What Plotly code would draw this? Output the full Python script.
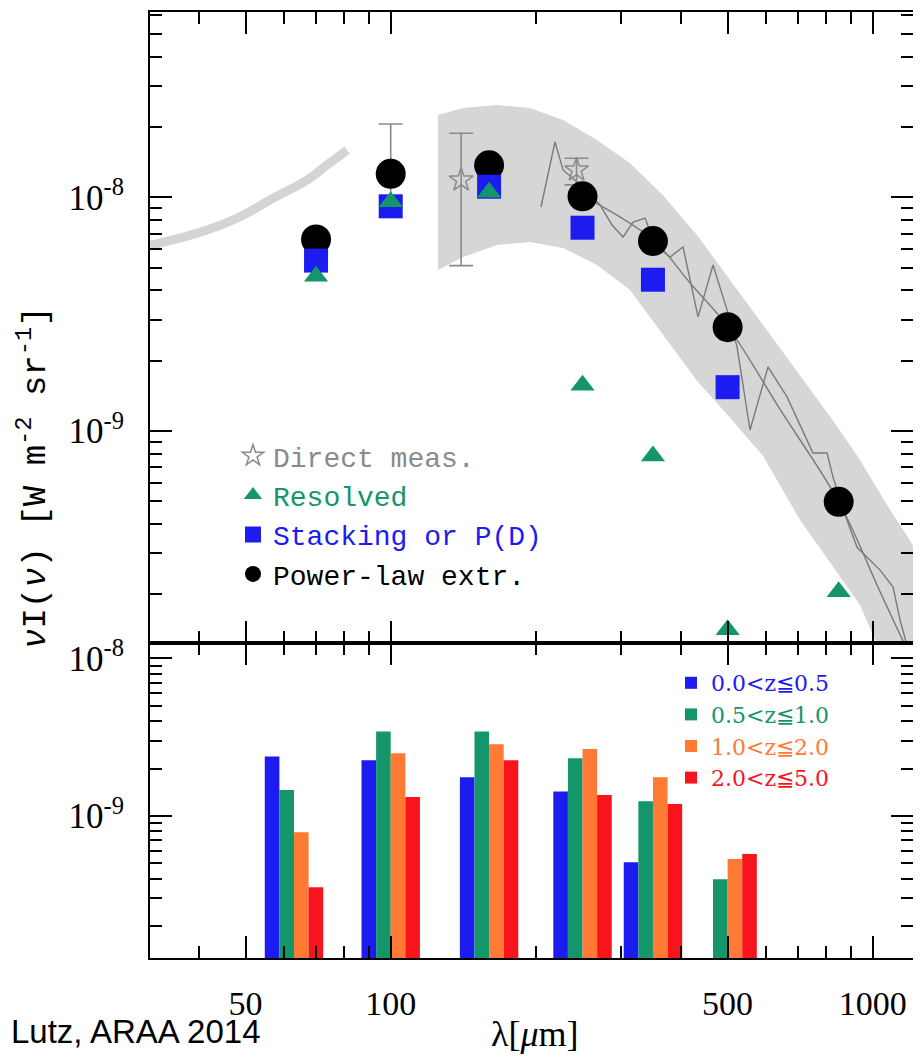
import numpy as np
import plotly.graph_objects as go

# ---------------- data ----------------
# gray uncertainty band (top panel)
band_lam = [125.3, 141.3, 166.2, 194.5, 227.8, 267.9, 313.7, 367.3, 432.0, 505.8,
            592.3, 706.8, 827.4, 941.3, 1071, 1195, 1259]
band_upper = [2.25e-8, 2.41e-8, 2.48e-8, 2.41e-8, 2.14e-8, 1.76e-8, 1.40e-8, 1.02e-8,
              6.90e-9, 4.43e-9, 2.84e-9, 1.74e-9, 1.11e-9, 7.51e-10, 4.82e-10,
              3.41e-10, 2.80e-10]
band_lower = [4.89e-9, 5.55e-9, 6.25e-9, 6.44e-9, 6.07e-9, 5.13e-9, 4.01e-9, 2.57e-9,
              1.64e-9, 1.14e-9, 7.82e-10, 4.16e-10, 2.62e-10, 1.80e-10, 9.7e-11,
              6.15e-11, 4.95e-11]

# thick light-gray mid-IR curve
mir_lam = [31.7, 33.2, 41.6, 48.7, 57.0, 67.1, 73.8, 81.2]
mir_val = [6.25e-9, 6.37e-9, 7.24e-9, 8.26e-9, 9.9e-9, 1.186e-8, 1.375e-8, 1.59e-8]

# noisy FIRAS spectrum
firas_lam = [205.0, 219.2, 227.8, 243.5, 259.1, 271.9, 287.9, 303.4, 318.3, 337.1,
             353.6, 379.8, 404.1, 434.1, 466.4, 498.5, 523.0, 556.5, 606.4, 664.1,
             706.8, 751.7, 803.9, 827.4, 876.2, 928.1, 1036, 1102, 1140, 1178]
firas_val = [9.09e-9, 1.724e-8, 1.309e-8, 1.163e-8, 1.023e-8, 9.27e-9, 7.61e-9, 6.76e-9,
             7.83e-9, 8.15e-9, 6.25e-9, 5.55e-9, 6.13e-9, 3.08e-9, 5.13e-9, 3.30e-9,
             2.29e-9, 1.01e-9, 1.88e-9, 1.40e-9, 1.06e-9, 8.05e-10, 8.05e-10, 6.35e-10,
             4.37e-10, 3.18e-10, 2.54e-10, 2.15e-10, 1.55e-10, 1.21e-10]

# smooth fit curve
fit_lam = [250.6, 350.1, 417.8, 501, 642, 851, 1036, 1167, 1259]
fit_val = [1.013e-8, 6.57e-9, 4.30e-9, 2.79e-9, 1.24e-9, 4.96e-10, 2.05e-10, 1.21e-10, 8.7e-11]

# direct measurements (stars) with error bars
direct_lam = [100, 140, 243]
direct_val = [1.3e-8, 1.186e-8, 1.31e-8]
direct_hi = [2.06e-8, 1.88e-8, 1.47e-8]
direct_lo = [1.0e-8, 5.1e-9, 1.13e-8]

# resolved (triangles)
resolved_lam = [70, 100, 160, 250, 350, 500, 850]
resolved_val = [4.59e-9, 9.58e-9, 1.05e-8, 1.57e-9, 7.82e-10, 1.41e-10, 2.05e-10]

# stacking or P(D) (squares)
stack_lam = [70, 100, 160, 250, 350, 500]
stack_val = [5.36e-9, 9.15e-9, 1.11e-8, 7.41e-9, 4.44e-9, 1.54e-9]

# power-law extrapolation (circles)
power_lam = [70, 100, 160, 250, 350, 500, 850]
power_val = [6.6e-9, 1.26e-8, 1.37e-8, 1.01e-8, 6.5e-9, 2.78e-9, 4.98e-10]

# bottom panel: contributions per redshift bin
bar_lam = [63, 100, 160, 250, 350, 500]
z_labels = ["0.0<z≦0.5", "0.5<z≦1.0", "1.0<z≦2.0", "2.0<z≦5.0"]
z_bin1 = [2.38e-9, 2.26e-9, 1.76e-9, 1.43e-9, 5.09e-10, None]
z_bin2 = [1.46e-9, 3.43e-9, 3.43e-9, 2.32e-9, 1.24e-9, 3.97e-10]
z_bin3 = [7.9e-10, 2.5e-9, 2.85e-9, 2.66e-9, 1.76e-9, 5.33e-10]
z_bin4 = [3.53e-10, 1.32e-9, 2.26e-9, 1.36e-9, 1.19e-9, 5.74e-10]

# tick labels
x_tick_vals = [50, 100, 500, 1000]
x_tick_text = ["50", "100", "500", "1000"]
y_tick_vals = [1e-9, 1e-8]
y_tick_text = ["10<sup>-9</sup>", "10<sup>-8</sup>"]

# ---------------- styles ----------------
BLUE = "#1c1cf0"
GREEN = "#14966a"
ORANGE = "#ff7a35"
RED = "#f8141c"
GRAY = "#8a8a8a"
MONO = "Liberation Mono"
SERIF = "Liberation Serif"

# page geometry (the page body adds an 8 px offset; keep the figure inside the window)
BODY = 8
FIG_W, FIG_H = 921 - 2 * BODY, 1062 - 2 * BODY
PLOT_L, PLOT_T, PLOT_B = 150, 12, 958          # page pixels
PLOT_R = BODY + FIG_W                           # right frame at the window edge
PLOT_W, PLOT_H = PLOT_R - PLOT_L, PLOT_B - PLOT_T
DEX_X = 482.0                                   # pixels per decade in x


def px(xp):
    return (xp - PLOT_L) / PLOT_W


def py(yp):
    return (PLOT_B - yp) / PLOT_H


fig = go.Figure()

# band
fig.add_trace(go.Scatter(
    x=band_lam + band_lam[::-1], y=band_upper + band_lower[::-1],
    fill="toself", fillcolor="#d6d6d6", mode="lines", line=dict(width=0),
    hoverinfo="skip", showlegend=False, xaxis="x", yaxis="y"))

# mid-IR thick curve
fig.add_trace(go.Scatter(
    x=mir_lam, y=mir_val, mode="lines", line=dict(color="#d4d4d4", width=9, shape="spline"),
    showlegend=False, xaxis="x", yaxis="y"))

# FIRAS and fit
fig.add_trace(go.Scatter(
    x=firas_lam, y=firas_val, mode="lines", line=dict(color="#7a7a7a", width=1.4),
    showlegend=False, xaxis="x", yaxis="y"))
fig.add_trace(go.Scatter(
    x=fit_lam, y=fit_val, mode="lines", line=dict(color="#7a7a7a", width=1.4, shape="spline"),
    showlegend=False, xaxis="x", yaxis="y"))

# direct measurements
err_plus = [h - v for h, v in zip(direct_hi, direct_val)]
err_minus = [v - l for v, l in zip(direct_val, direct_lo)]
fig.add_trace(go.Scatter(
    x=direct_lam, y=direct_val, mode="markers",
    marker=dict(symbol="star-open", size=18, color=GRAY, line=dict(width=1.5, color=GRAY)),
    error_y=dict(type="data", symmetric=False, array=err_plus, arrayminus=err_minus,
                 color=GRAY, thickness=1.6, width=12),
    name='<span style="color:#8a8a8a">Direct meas.</span>', legend="legend", legendrank=1,
    xaxis="x", yaxis="y"))

# power-law circles (drawn below squares / triangles)
fig.add_trace(go.Scatter(
    x=power_lam, y=power_val, mode="markers",
    marker=dict(symbol="circle", size=30, color="black"),
    name="Power-law extr.", legend="legend", legendrank=4, xaxis="x", yaxis="y"))

fig.add_trace(go.Scatter(
    x=stack_lam, y=stack_val, mode="markers",
    marker=dict(symbol="square", size=24, color=BLUE),
    name='<span style="color:%s">Stacking or P(D)</span>' % BLUE, legend="legend", legendrank=3,
    xaxis="x", yaxis="y"))

fig.add_trace(go.Scatter(
    x=resolved_lam, y=resolved_val, mode="markers",
    marker=dict(symbol="triangle-up", size=21, color=GREEN),
    name='<span style="color:%s">Resolved</span>' % GREEN, legend="legend", legendrank=2,
    xaxis="x", yaxis="y"))

# bars (bottom panel), grouped in log-wavelength space
BAR_DEX = 0.0303
z_series = [z_bin1, z_bin2, z_bin3, z_bin4]
z_colors = [BLUE, GREEN, ORANGE, RED]
for k, (vals, col, lab) in enumerate(zip(z_series, z_colors, z_labels)):
    lc = np.log10(bar_lam) + (k - 1.5) * BAR_DEX
    left = 10 ** (lc - BAR_DEX / 2)
    right = 10 ** (lc + BAR_DEX / 2)
    fig.add_trace(go.Bar(
        x=(left + right) / 2, y=vals, width=right - left,
        marker=dict(color=col, line=dict(width=0)),
        name='<span style="color:%s">%s</span>' % (col, lab),
        legend="legend2", xaxis="x2", yaxis="y2"))

# ---------------- axes ----------------
axis_common = dict(showline=True, linecolor="black", linewidth=2, mirror="ticks",
                   ticks="inside", ticklen=22, tickwidth=2, tickcolor="black",
                   showgrid=False, zeroline=False, automargin=False)
x_minor_vals = [40, 60, 70, 80, 90, 200, 300, 400, 600, 700, 800, 900]
y_minor_vals = [m * 10.0 ** e for e in (-10, -9, -8) for m in range(2, 10)]


def minor(vals):
    return dict(tickvals=vals, ticks="inside", ticklen=12, tickwidth=2,
                tickcolor="black", showgrid=False)


X_LO = 1.5006
X_RANGE = [X_LO, X_LO + PLOT_W / DEX_X]
SPLIT = py(643)
Y1_RANGE = [-9.9071, -7.2071]
Y2_RANGE = [-9.9004, -7.903]

fig.update_layout(
    width=FIG_W, height=FIG_H,
    margin=dict(l=PLOT_L - BODY, r=0, t=PLOT_T - BODY, b=FIG_H - (PLOT_B - BODY),
                autoexpand=False),
    plot_bgcolor="white", paper_bgcolor="white",
    barmode="overlay",
    xaxis=dict(type="log", range=X_RANGE, domain=[0, 1], anchor="y",
               tickvals=x_tick_vals, showticklabels=False, minor=minor(x_minor_vals),
               **axis_common),
    yaxis=dict(type="log", range=Y1_RANGE, domain=[SPLIT, 1], anchor="x",
               tickvals=y_tick_vals, ticktext=y_tick_text,
               tickfont=dict(family=SERIF, size=35, color="black"), ticklabelstandoff=17,
               minor=minor(y_minor_vals), **axis_common),
    xaxis2=dict(type="log", range=X_RANGE, domain=[0, 1], anchor="y2",
                tickvals=x_tick_vals, ticktext=x_tick_text,
                tickfont=dict(family=SERIF, size=34, color="black"), ticklabelstandoff=14,
                minor=minor(x_minor_vals), **axis_common),
    yaxis2=dict(type="log", range=Y2_RANGE, domain=[0, SPLIT], anchor="x2",
                tickvals=y_tick_vals, ticktext=y_tick_text,
                tickfont=dict(family=SERIF, size=35, color="black"), ticklabelstandoff=17,
                minor=minor(y_minor_vals), **axis_common),
    legend=dict(x=px(233), y=py(431), xanchor="left", yanchor="top",
                font=dict(family=MONO, size=28, color="black"), bgcolor="rgba(0,0,0,0)",
                itemsizing="trace", tracegroupgap=0),
    legend2=dict(x=px(671), y=py(662), xanchor="left", yanchor="top",
                 font=dict(family="DejaVu Serif", size=22, color="black"),
                 bgcolor="rgba(0,0,0,0)", tracegroupgap=0),
    annotations=[
        dict(text="<i>ν</i>I(<i>ν</i>) [W m<sup>-2</sup> sr<sup>-1</sup>]",
             xref="paper", yref="paper", x=px(33), y=py(478),
             xanchor="center", yanchor="middle", textangle=-90, showarrow=False,
             font=dict(family=MONO, size=34, color="black")),
        dict(text="λ[<i>μ</i>m]", xref="paper", yref="paper",
             x=px(535), y=py(1034), xanchor="center", yanchor="middle",
             showarrow=False, font=dict(family=SERIF, size=36, color="black")),
        dict(text="Lutz, ARAA 2014", xref="paper", yref="paper",
             x=px(BODY + 1), y=py(1031), xanchor="left", yanchor="middle",
             showarrow=False, font=dict(family="Liberation Sans", size=33, color="black")),
    ],
)

fig.write_html("out.html")
